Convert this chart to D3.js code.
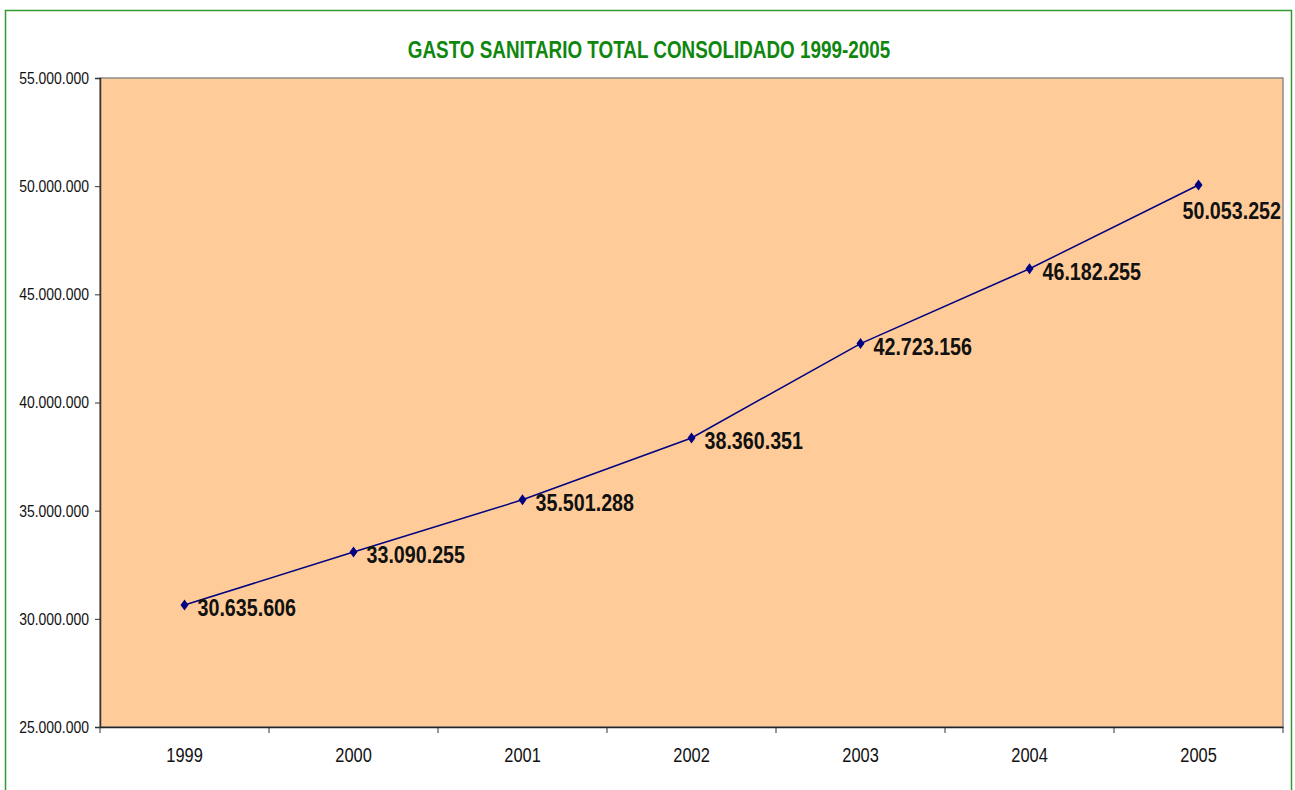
<!DOCTYPE html>
<html>
<head>
<meta charset="utf-8">
<script src="https://cdn.jsdelivr.net/npm/d3@7"></script>
<style>
  body { margin: 0; background: #fff; }
  svg { display: block; }
  text { font-family: "Liberation Sans", Arial, sans-serif; }
</style>
</head>
<body>
<div id="chart"></div>
<script>
const years = ["1999", "2000", "2001", "2002", "2003", "2004", "2005"];
const gasto = [30635606, 33090255, 35501288, 38360351, 42723156, 46182255, 50053252];
const yTicks = [25000000, 30000000, 35000000, 40000000, 45000000, 50000000, 55000000];
const title = "GASTO SANITARIO TOTAL CONSOLIDADO 1999-2005";

const W = 1295, H = 790;
const margin = { top: 78, right: 12, bottom: 63, left: 100 };
const width = W - margin.left - margin.right;
const height = H - margin.top - margin.bottom;

// es-ES style number format: 30.635.606
const fmt = d3.formatLocale({ decimal: ",", thousands: ".", grouping: [3], currency: ["", "€"] }).format(",d");

const svg = d3.select("#chart").append("svg")
  .attr("width", W)
  .attr("height", H);

// outer chart border
svg.append("rect")
  .attr("x", 5.5).attr("y", 10.5)
  .attr("width", 1286).attr("height", 800)
  .attr("fill", "#fff")
  .attr("stroke", "#339933")
  .attr("stroke-width", 1.5);

svg.append("text")
  .attr("x", 649)
  .attr("y", 58)
  .attr("text-anchor", "middle")
  .attr("font-size", 23)
  .attr("font-weight", "bold")
  .attr("fill", "#0f870f")
  .text(title);

const g = svg.append("g")
  .attr("transform", `translate(${margin.left},${margin.top})`);

const x = d3.scaleBand().domain(years).range([0, width]);
const y = d3.scaleLinear().domain([25000000, 55000000]).range([height, 0]);

// plot area
g.append("rect")
  .attr("width", width).attr("height", height)
  .attr("fill", "#FFCC99")
  .attr("stroke", "#8c8c8c")
  .attr("stroke-width", 1.5);

// y axis
const yAxis = g.append("g")
  .call(d3.axisLeft(y).tickValues(yTicks).tickSize(5).tickPadding(6).tickFormat(fmt));
yAxis.select(".domain").attr("stroke", "#333").attr("stroke-width", 1.5);
yAxis.selectAll(".tick line").attr("stroke", "#333");
yAxis.selectAll("text").attr("font-size", 17).attr("fill", "#111")
  .style("font-family", "\"Liberation Sans\", Arial, sans-serif");

// x axis: ticks at category boundaries
const xAxis = g.append("g")
  .attr("transform", `translate(0,${height})`)
  .call(d3.axisBottom(x).tickSize(0).tickPadding(21));
xAxis.select(".domain").attr("stroke", "#222").attr("stroke-width", 1.5);
xAxis.selectAll("text").attr("font-size", 20).attr("fill", "#111")
  .style("font-family", "\"Liberation Sans\", Arial, sans-serif");
g.append("g")
  .selectAll("line")
  .data(years.concat(["end"]))
  .join("line")
  .attr("x1", (d, i) => i * x.step())
  .attr("x2", (d, i) => i * x.step())
  .attr("y1", height)
  .attr("y2", height + 6)
  .attr("stroke", "#333");

const pts = years.map((yr, i) => ({ year: yr, value: gasto[i] }));
const cx = d => x(d.year) + x.bandwidth() / 2;

g.append("path")
  .datum(pts)
  .attr("fill", "none")
  .attr("stroke", "#000080")
  .attr("stroke-width", 1.5)
  .attr("d", d3.line().x(cx).y(d => y(d.value)));

g.selectAll(".mk")
  .data(pts)
  .join("path")
  .attr("class", "mk")
  .attr("transform", d => `translate(${cx(d)},${y(d.value)})`)
  .attr("d", "M0,-5.5L4,0L0,5.5L-4,0Z")
  .attr("fill", "#000080");

// data labels: right of point, last one pushed below-left to stay inside
g.selectAll(".lbl")
  .data(pts)
  .join("text")
  .attr("class", "lbl")
  .attr("x", (d, i) => i === pts.length - 1 ? cx(d) - 16 : cx(d) + 13)
  .attr("y", (d, i) => i === pts.length - 1 ? y(d.value) + 34 : y(d.value) + 11)
  .attr("font-size", 24)
  .attr("font-weight", "bold")
  .attr("fill", "#111")
  .text(d => fmt(d.value));

// no narrow font installed: squeeze every text horizontally like Arial Narrow
svg.selectAll("text").each(function () {
  const len = this.getComputedTextLength();
  d3.select(this)
    .attr("textLength", len * 0.82)
    .attr("lengthAdjust", "spacingAndGlyphs");
});
</script>
</body>
</html>
